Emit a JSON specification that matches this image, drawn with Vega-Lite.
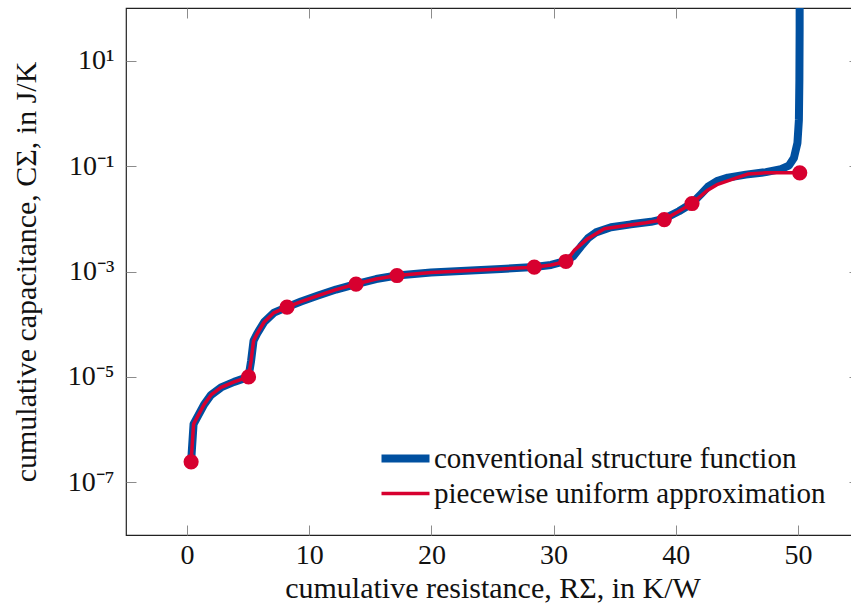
{
  "$schema": "https://vega.github.io/schema/vega-lite/v6.json",
  "width": 733,
  "height": 527,
  "autosize": {"type": "none"},
  "padding": {"left": 126, "top": 8, "right": 0, "bottom": 80},
  "background": "white",
  "config": {
    "font": "Liberation Serif",
    "view": {"stroke": "#222222", "strokeWidth": 1.2},
    "axis": {
      "grid": false,
      "domain": false,
      "ticks": true,
      "tickSize": -10,
      "tickColor": "#8c8c8c",
      "tickWidth": 1,
      "labelFont": "Liberation Serif",
      "labelFontSize": 28,
      "labelColor": "#111111",
      "titleFont": "Liberation Serif",
      "titleFontSize": 30,
      "titleFontWeight": "normal",
      "titleColor": "#111111"
    },
    "legend": {
      "labelFont": "Liberation Serif",
      "labelFontSize": 29,
      "labelColor": "#111111",
      "labelLimit": 0
    }
  },
  "datasets": {
    "curves": [
      {"R": 0.33, "C": 2.45e-7, "series": "conventional structure function"},
      {"R": 0.53, "C": 1.27e-6, "series": "conventional structure function"},
      {"R": 1.39, "C": 2.99e-6, "series": "conventional structure function"},
      {"R": 1.96, "C": 4.54e-6, "series": "conventional structure function"},
      {"R": 2.78, "C": 6.31e-6, "series": "conventional structure function"},
      {"R": 3.85, "C": 8.04e-6, "series": "conventional structure function"},
      {"R": 5.03, "C": 1.0e-5, "series": "conventional structure function"},
      {"R": 5.24, "C": 2.02e-5, "series": "conventional structure function"},
      {"R": 5.44, "C": 4.85e-5, "series": "conventional structure function"},
      {"R": 5.73, "C": 6.59e-5, "series": "conventional structure function"},
      {"R": 6.30, "C": 1.09e-4, "series": "conventional structure function"},
      {"R": 7.12, "C": 1.66e-4, "series": "conventional structure function"},
      {"R": 8.18, "C": 2.11e-4, "series": "conventional structure function"},
      {"R": 9.33, "C": 2.69e-4, "series": "conventional structure function"},
      {"R": 10.72, "C": 3.49e-4, "series": "conventional structure function"},
      {"R": 12.19, "C": 4.54e-4, "series": "conventional structure function"},
      {"R": 13.83, "C": 5.78e-4, "series": "conventional structure function"},
      {"R": 15.47, "C": 7.19e-4, "series": "conventional structure function"},
      {"R": 17.18, "C": 8.39e-4, "series": "conventional structure function"},
      {"R": 19.97, "C": 9.57e-4, "series": "conventional structure function"},
      {"R": 23.24, "C": 1.045e-3, "series": "conventional structure function"},
      {"R": 25.7, "C": 1.117e-3, "series": "conventional structure function"},
      {"R": 28.4, "C": 1.219e-3, "series": "conventional structure function"},
      {"R": 29.79, "C": 1.33e-3, "series": "conventional structure function"},
      {"R": 31.01, "C": 1.585e-3, "series": "conventional structure function"},
      {"R": 31.59, "C": 1.93e-3, "series": "conventional structure function"},
      {"R": 32.24, "C": 2.99e-3, "series": "conventional structure function"},
      {"R": 32.81, "C": 4.26e-3, "series": "conventional structure function"},
      {"R": 33.47, "C": 5.53e-3, "series": "conventional structure function"},
      {"R": 34.70, "C": 6.89e-3, "series": "conventional structure function"},
      {"R": 36.33, "C": 7.85e-3, "series": "conventional structure function"},
      {"R": 37.97, "C": 8.77e-3, "series": "conventional structure function"},
      {"R": 39.03, "C": 1.0e-2, "series": "conventional structure function"},
      {"R": 40.26, "C": 1.39e-2, "series": "conventional structure function"},
      {"R": 41.33, "C": 1.97e-2, "series": "conventional structure function"},
      {"R": 42.06, "C": 2.93e-2, "series": "conventional structure function"},
      {"R": 42.64, "C": 4.07e-2, "series": "conventional structure function"},
      {"R": 43.37, "C": 5.18e-2, "series": "conventional structure function"},
      {"R": 44.27, "C": 6.04e-2, "series": "conventional structure function"},
      {"R": 45.74, "C": 6.89e-2, "series": "conventional structure function"},
      {"R": 47.38, "C": 7.69e-2, "series": "conventional structure function"},
      {"R": 48.61, "C": 8.77e-2, "series": "conventional structure function"},
      {"R": 49.26, "C": 0.102, "series": "conventional structure function"},
      {"R": 49.67, "C": 0.142, "series": "conventional structure function"},
      {"R": 49.96, "C": 0.274, "series": "conventional structure function"},
      {"R": 50.08, "C": 0.752, "series": "conventional structure function"},
      {"R": 50.12, "C": 4.35, "series": "conventional structure function"},
      {"R": 50.14, "C": 38.9, "series": "conventional structure function"},
      {"R": 50.15, "C": 100000, "series": "conventional structure function"},

      {"R": 0.33, "C": 2.45e-7, "series": "piecewise uniform approximation"},
      {"R": 0.53, "C": 1.27e-6, "series": "piecewise uniform approximation"},
      {"R": 1.39, "C": 2.99e-6, "series": "piecewise uniform approximation"},
      {"R": 1.96, "C": 4.54e-6, "series": "piecewise uniform approximation"},
      {"R": 2.78, "C": 6.31e-6, "series": "piecewise uniform approximation"},
      {"R": 3.85, "C": 8.04e-6, "series": "piecewise uniform approximation"},
      {"R": 5.03, "C": 1.0e-5, "series": "piecewise uniform approximation"},
      {"R": 5.24, "C": 2.02e-5, "series": "piecewise uniform approximation"},
      {"R": 5.44, "C": 4.85e-5, "series": "piecewise uniform approximation"},
      {"R": 5.73, "C": 6.59e-5, "series": "piecewise uniform approximation"},
      {"R": 6.30, "C": 1.09e-4, "series": "piecewise uniform approximation"},
      {"R": 7.12, "C": 1.66e-4, "series": "piecewise uniform approximation"},
      {"R": 8.18, "C": 2.11e-4, "series": "piecewise uniform approximation"},
      {"R": 9.33, "C": 2.69e-4, "series": "piecewise uniform approximation"},
      {"R": 10.72, "C": 3.49e-4, "series": "piecewise uniform approximation"},
      {"R": 12.19, "C": 4.54e-4, "series": "piecewise uniform approximation"},
      {"R": 13.83, "C": 5.78e-4, "series": "piecewise uniform approximation"},
      {"R": 15.47, "C": 7.19e-4, "series": "piecewise uniform approximation"},
      {"R": 17.18, "C": 8.39e-4, "series": "piecewise uniform approximation"},
      {"R": 19.97, "C": 9.57e-4, "series": "piecewise uniform approximation"},
      {"R": 23.24, "C": 1.045e-3, "series": "piecewise uniform approximation"},
      {"R": 25.7, "C": 1.117e-3, "series": "piecewise uniform approximation"},
      {"R": 28.42, "C": 1.208e-3, "series": "piecewise uniform approximation"},
      {"R": 29.79, "C": 1.33e-3, "series": "piecewise uniform approximation"},
      {"R": 31.01, "C": 1.55e-3, "series": "piecewise uniform approximation"},
      {"R": 31.69, "C": 2.51e-3, "series": "piecewise uniform approximation"},
      {"R": 32.79, "C": 4.2e-3, "series": "piecewise uniform approximation"},
      {"R": 34.15, "C": 6.5e-3, "series": "piecewise uniform approximation"},
      {"R": 36.06, "C": 7.52e-3, "series": "piecewise uniform approximation"},
      {"R": 37.56, "C": 8.39e-3, "series": "piecewise uniform approximation"},
      {"R": 39.06, "C": 9.66e-3, "series": "piecewise uniform approximation"},
      {"R": 40.26, "C": 1.39e-2, "series": "piecewise uniform approximation"},
      {"R": 41.33, "C": 1.95e-2, "series": "piecewise uniform approximation"},
      {"R": 42.61, "C": 3.49e-2, "series": "piecewise uniform approximation"},
      {"R": 43.37, "C": 4.45e-2, "series": "piecewise uniform approximation"},
      {"R": 44.25, "C": 5.25e-2, "series": "piecewise uniform approximation"},
      {"R": 45.88, "C": 7.05e-2, "series": "piecewise uniform approximation"},
      {"R": 47.38, "C": 7.45e-2, "series": "piecewise uniform approximation"},
      {"R": 50.15, "C": 7.45e-2, "series": "piecewise uniform approximation"}
    ],
    "nodes": [
      {"R": 0.33, "C": 2.45e-7},
      {"R": 5.03, "C": 1.0e-5},
      {"R": 8.18, "C": 2.11e-4},
      {"R": 13.83, "C": 5.78e-4},
      {"R": 17.18, "C": 8.39e-4},
      {"R": 28.42, "C": 1.208e-3},
      {"R": 31.01, "C": 1.55e-3},
      {"R": 39.06, "C": 9.66e-3},
      {"R": 41.33, "C": 1.95e-2},
      {"R": 50.15, "C": 7.45e-2}
    ]
  },
  "layer": [
    {
      "data": {"name": "curves"},
      "mark": {"type": "line", "clip": true, "strokeCap": "butt", "strokeJoin": "round"},
      "encoding": {
        "x": {
          "field": "R", "type": "quantitative",
          "scale": {"domain": [-5, 55], "nice": false, "zero": false},
          "axis": {
            "orient": "bottom",
            "values": [0, 10, 20, 30, 40, 50],
            "labelPadding": 16,
            "title": "cumulative resistance, RΣ, in K/W",
            "titlePadding": 4
          }
        },
        "y": {
          "field": "C", "type": "quantitative",
          "scale": {"type": "log", "domain": [1e-8, 100], "nice": false},
          "axis": {
            "orient": "left",
            "values": [10, 0.1, 0.001, 0.00001, 0.0000001],
            "labelPadding": 22,
            "labelExpr": "datum.value > 1 ? '10¹' : datum.value > 0.01 ? '10⁻¹' : datum.value > 0.0001 ? '10⁻³' : datum.value > 0.000001 ? '10⁻⁵' : '10⁻⁷'",
            "title": "cumulative capacitance, CΣ, in J/K",
            "titlePadding": 26
          }
        },
        "color": {
          "field": "series", "type": "nominal",
          "scale": {
            "domain": ["conventional structure function", "piecewise uniform approximation"],
            "range": ["#0050a0", "#d7002f"]
          },
          "legend": {
            "orient": "none",
            "legendX": 273,
            "legendY": 436,
            "title": null,
            "symbolType": "M-4,0H2",
            "symbolSize": 256,
            "rowPadding": 4,
            "labelOffset": 6
          }
        },
        "strokeWidth": {
          "field": "series", "type": "nominal",
          "scale": {
            "domain": ["conventional structure function", "piecewise uniform approximation"],
            "range": [8, 3.5]
          },
          "legend": {
            "orient": "none",
            "legendX": 273,
            "legendY": 436,
            "title": null,
            "symbolType": "M-4,0H2",
            "symbolSize": 256,
            "rowPadding": 4,
            "labelOffset": 6
          }
        }
      }
    },
    {
      "data": {"name": "nodes"},
      "mark": {"type": "circle", "size": 230, "color": "#d7002f", "opacity": 1, "clip": true},
      "encoding": {
        "x": {
          "field": "R", "type": "quantitative",
          "axis": {"orient": "top", "values": [0, 10, 20, 30, 40, 50], "labels": false, "title": null}
        },
        "y": {
          "field": "C", "type": "quantitative",
          "axis": {"orient": "right", "values": [10, 0.1, 0.001, 0.00001, 0.0000001], "labels": false, "title": null}
        }
      }
    }
  ],
  "resolve": {"axis": {"x": "independent", "y": "independent"}}
}
